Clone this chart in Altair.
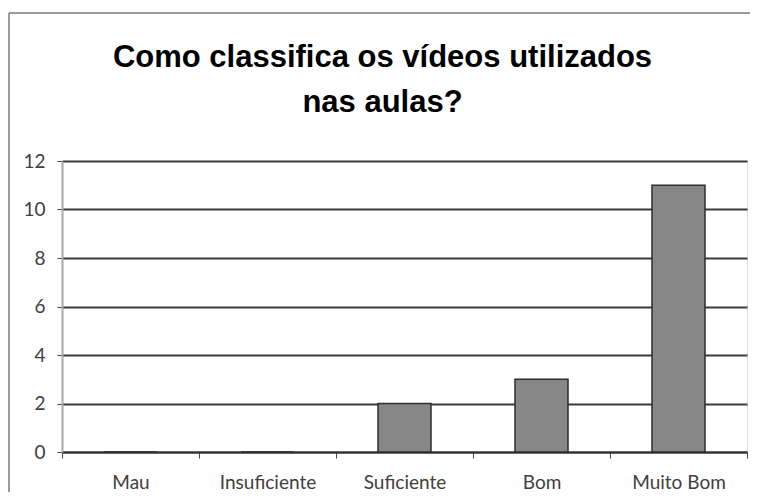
import altair as alt
import pandas as pd

categories = ["Mau", "Insuficiente", "Suficiente", "Bom", "Muito Bom"]
values = [0, 0, 2, 3, 11]
y_ticks = [0, 2, 4, 6, 8, 10, 12]
title_lines = ["Como classifica os vídeos utilizados", "nas aulas?"]

df = pd.DataFrame({"cat": categories, "val": values})

bars = alt.Chart(df).mark_bar(
    size=53, color="#878787", stroke="#2e2e2e", strokeWidth=1.5
).encode(
    x=alt.X("cat:N", sort=categories, title=None,
            scale=alt.Scale(paddingInner=0, paddingOuter=0),
            axis=alt.Axis(labelAngle=0, labelFont="Lato", labelFontSize=19,
                          labelColor="#404040", labelPadding=15,
                          tickBand="extent", tickSize=6, tickColor="#444",
                          tickWidth=1, domainColor="#333", domainWidth=2)),
    y=alt.Y("val:Q", title=None,
            scale=alt.Scale(domain=[0, 12], nice=False),
            axis=alt.Axis(values=y_ticks, labelFont="Lato", labelFontSize=19,
                          labelColor="#404040", labelPadding=12,
                          tickSize=5, tickColor="#444", tickWidth=1,
                          gridColor="#3a3a3a", gridWidth=2,
                          domainColor="#a8a8a8", domainWidth=2)),
)

frame_df = pd.DataFrame({"a": [0]})
top_border = alt.Chart(frame_df).mark_rule(color="#9a9a9a", strokeWidth=2).encode(
    x=alt.value(-53), x2=alt.value(700), y=alt.value(-148)
)
left_border = alt.Chart(frame_df).mark_rule(color="#9a9a9a", strokeWidth=2).encode(
    x=alt.value(-53), y=alt.value(-148), y2=alt.value(400)
)

chart = alt.layer(bars, top_border, left_border).properties(
    width=685, height=291,
    padding={"left": 54, "top": 153, "right": 3, "bottom": 40},
    autosize=alt.AutoSizeParams(type="none"),
    title=alt.TitleParams(
        text=title_lines, font="Liberation Sans", fontSize=31,
        fontWeight="bold", color="#000000", anchor="middle", frame="group",
        lineHeight=45, offset=0, dx=-22, dy=107
    ),
).configure_view(stroke=None).configure(background="white")

chart.save("out.html", embed_options={"renderer": "svg", "actions": False})
